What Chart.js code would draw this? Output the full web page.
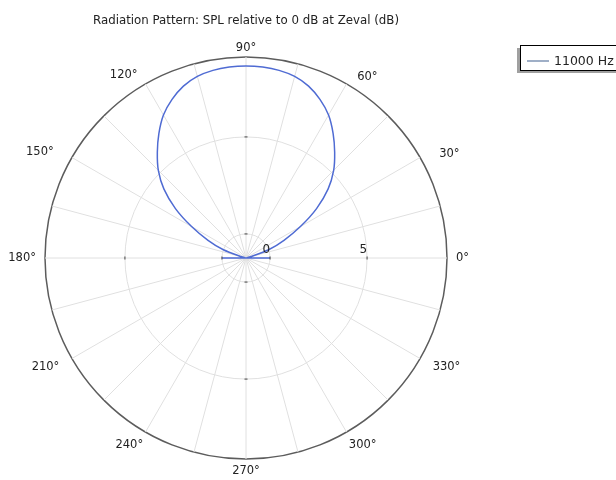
<!DOCTYPE html>
<html>
<head>
<meta charset="utf-8">
<script src="https://cdn.jsdelivr.net/npm/chart.js@4/dist/chart.umd.min.js"></script>
<style>
  html, body { margin: 0; padding: 0; background: #fff; }
  canvas { display: block; }
</style>
</head>
<body>
<canvas id="chart" width="616" height="480"></canvas>
<script>
// Polar angles in degrees, counter-clockwise from the +x axis
const angles = [
    0, 5, 10, 15, 20, 25, 30, 35, 40, 45, 50, 55,
    60, 65, 70, 75, 80, 85, 90, 95, 100, 105, 110, 115,
    120, 125, 130, 135, 140, 145, 150, 155, 160, 165, 170, 175,
    180, 185, 190, 195, 200, 205, 210, 215, 220, 225, 230, 235,
    240, 245, 250, 255, 260, 265, 270, 275, 280, 285, 290, 295,
    300, 305, 310, 315, 320, 325, 330, 335, 340, 345, 350, 355
];

// SPL relative to 0 dB at Zeval (dB).
// Values at the axis minimum end up in the centre of the plot.
const splDb = [
    0.0, -1.24, -1.24, -1.05, 0.0, 0.92, 2.0, 3.2, 4.28, 5.15, 5.87, 6.59,
    7.27, 7.78, 8.19, 8.45, 8.58, 8.64, 8.66, 8.64, 8.58, 8.45, 8.19, 7.78,
    7.27, 6.59, 5.87, 5.15, 4.28, 3.2, 2.0, 0.92, 0.0, -1.05, -1.24, -1.24,
    0.0, -1.24, -1.24, -1.24, -1.24, -1.24, -1.24, -1.24, -1.24, -1.24, -1.24, -1.24,
    -1.24, -1.24, -1.24, -1.24, -1.24, -1.24, -1.24, -1.24, -1.24, -1.24, -1.24, -1.24,
    -1.24, -1.24, -1.24, -1.24, -1.24, -1.24, -1.24, -1.24, -1.24, -1.24, -1.24, -1.24
];

const seriesLabel = '11000 Hz';
const titleText = 'Radiation Pattern: SPL relative to 0 dB at Zeval (dB)';

// Axis range and ticks
const axisMin = -1.24;
const axisMax = 9.12;
const radialTicks = [0, 5];
const angleTicks = [0, 30, 60, 90, 120, 150, 180, 210, 240, 270, 300, 330];
const spokeStep = 15;

const lineColor = '#4f6bd3';
const gridColor = '#e0e0e0';
const textColor = '#222';
const fontFamily = '"DejaVu Sans", Verdana, sans-serif';

// Chart.js radar goes clockwise, so feed it the angles in reverse order
const N = angles.length;
const displayOrder = angles.map((_, i) => (N - i) % N);
const chartLabels = displayOrder.map(k => angles[k]);
const chartData = displayOrder.map(k => splDb[k]);

Chart.defaults.font.family = fontFamily;

// Angle labels, radial tick labels, small tick marks and the boxed legend
const polarDecor = {
    id: 'polarDecor',
    afterDraw(chart) {
        const r = chart.scales.r;
        const ctx = chart.ctx;
        ctx.save();

        // small tick marks where the 0 and 5 circles cross the axes
        ctx.strokeStyle = '#444';
        ctx.lineWidth = 1;
        [0, 90, 180, 270].forEach(a => {
            const idx = chartLabels.indexOf(a);
            radialTicks.forEach(v => {
                const d = r.getDistanceFromCenterForValue(v);
                const p = r.getPointPosition(idx, d);
                const th = a * Math.PI / 180;
                const tx = -Math.sin(th), ty = -Math.cos(th);
                ctx.beginPath();
                ctx.moveTo(p.x - tx * 1.5, p.y - ty * 1.5);
                ctx.lineTo(p.x + tx * 1.5, p.y + ty * 1.5);
                ctx.stroke();
            });
        });

        // angle labels
        ctx.fillStyle = textColor;
        ctx.font = '11.5px ' + fontFamily;
        ctx.textAlign = 'center';
        ctx.textBaseline = 'middle';
        angleTicks.forEach(a => {
            const idx = chartLabels.indexOf(a);
            const txt = a + '°';
            const w = ctx.measureText(txt).width;
            const th = a * Math.PI / 180;
            const upper = Math.sin(th) > 0;
            const dist = r.drawingArea + 9 + (w / 2) * Math.abs(Math.cos(th)) + (upper ? 0 : 3) * Math.abs(Math.sin(th));
            const p = r.getPointPosition(idx, dist);
            const diag = Math.abs(Math.sin(2 * th));
            const px = p.x + Math.sign(Math.cos(th)) * (upper ? 16 : 8) * diag;
            const py = p.y + Math.sign(Math.sin(th)) * (upper ? 6 : 3) * diag;
            ctx.fillText(txt, px, py);
        });

        // radial tick labels, just above the 0° axis
        ctx.font = '12px ' + fontFamily;
        ctx.textAlign = 'right';
        ctx.textBaseline = 'alphabetic';
        radialTicks.forEach(v => {
            const d = r.getDistanceFromCenterForValue(v);
            ctx.fillText(String(v), r.xCenter + d, r.yCenter - 5);
        });

        // legend box
        const ds = chart.data.datasets[0];
        const bx = 520, by = 45, bw = 110, bh = 25;
        ctx.fillStyle = '#a0a0a0';
        ctx.fillRect(bx - 3, by + 3, bw, bh);
        ctx.fillStyle = '#fff';
        ctx.fillRect(bx, by, bw, bh);
        ctx.strokeStyle = '#000';
        ctx.strokeRect(bx + 0.5, by + 0.5, bw, bh);
        ctx.strokeStyle = '#7f95b5';
        ctx.lineWidth = 1.5;
        ctx.beginPath();
        ctx.moveTo(bx + 7, by + 16);
        ctx.lineTo(bx + 29, by + 16);
        ctx.stroke();
        ctx.fillStyle = textColor;
        ctx.font = '12.5px ' + fontFamily;
        ctx.textAlign = 'left';
        ctx.fillText(ds.label, bx + 34, by + 20);

        ctx.restore();
    }
};

new Chart(document.getElementById('chart'), {
    type: 'radar',
    data: {
        labels: chartLabels,
        datasets: [{
            label: seriesLabel,
            data: chartData,
            borderColor: lineColor,
            backgroundColor: lineColor,
            borderWidth: 1.5,
            pointRadius: 0,
            pointHoverRadius: 0,
            fill: false,
            tension: 0.3
        }]
    },
    options: {
        responsive: false,
        animation: false,
        layout: {
            padding: { left: 45, right: 169, top: 0, bottom: 21 }
        },
        scales: {
            r: {
                min: axisMin,
                max: axisMax,
                startAngle: 90,
                afterBuildTicks: (scale) => {
                    scale.ticks = [axisMin, ...radialTicks, axisMax].map(v => ({ value: v }));
                },
                ticks: { display: false },
                pointLabels: { display: false },
                grid: {
                    circular: true,
                    color: (c) => {
                        const v = c.tick ? c.tick.value : null;
                        if (v === axisMax) return '#5c5c5c';
                        if (v === axisMin) return 'rgba(0,0,0,0)';
                        return gridColor;
                    },
                    lineWidth: (c) => (c.tick && c.tick.value === axisMax ? 1.5 : 1)
                },
                angleLines: {
                    color: (c) => (chartLabels[c.index] % spokeStep === 0 ? gridColor : 'rgba(0,0,0,0)'),
                    lineWidth: (c) => (chartLabels[c.index] % spokeStep === 0 ? 1 : 0)
                }
            }
        },
        plugins: {
            legend: { display: false },
            tooltip: { enabled: false },
            title: {
                display: true,
                text: titleText,
                color: textColor,
                font: { size: 11.8, weight: 'normal' },
                padding: { top: 14, bottom: 28.84 }
            }
        }
    },
    plugins: [polarDecor]
});
</script>
</body>
</html>
